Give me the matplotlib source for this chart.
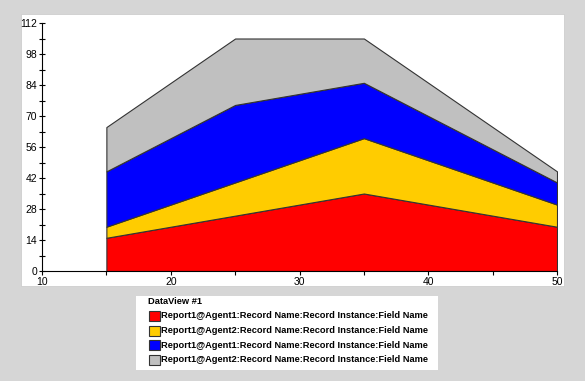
import matplotlib.pyplot as plt
import matplotlib.patches as mpatches
from matplotlib.ticker import MultipleLocator

plt.rcParams['font.family'] = ['Liberation Sans', 'DejaVu Sans']

x = [15, 25, 35, 50]
agent1_a = [15, 25, 35, 20]
agent2_a = [5, 15, 25, 10]
agent1_b = [25, 35, 25, 10]
agent2_b = [20, 30, 20, 5]
series_labels = [
    'Report1@Agent1:Record Name:Record Instance:Field Name',
    'Report1@Agent2:Record Name:Record Instance:Field Name',
    'Report1@Agent1:Record Name:Record Instance:Field Name',
    'Report1@Agent2:Record Name:Record Instance:Field Name',
]
colors = ['#ff0000', '#ffcc00', '#0000ff', '#c0c0c0']

fig = plt.figure(figsize=(5.85, 3.81), dpi=100)
fig.patch.set_facecolor('#d6d6d6')

# white panel behind the plot
fig.patches.append(mpatches.Rectangle((21 / 585, 1 - 286 / 381), 543 / 585, 272 / 381,
                                      transform=fig.transFigure, facecolor='white',
                                      edgecolor='#c8c8c8', linewidth=0.5, zorder=-2))
# white box behind the legend
fig.patches.append(mpatches.Rectangle((136 / 585, 1 - 370 / 381), 302 / 585, 74 / 381,
                                      transform=fig.transFigure, facecolor='white',
                                      edgecolor='none', zorder=-2))

ax = fig.add_axes([42 / 585, 1 - 271 / 381, 515 / 585, 248 / 381])
ax.set_facecolor('none')
ax.set_zorder(1)

ax.stackplot(x, agent1_a, agent2_a, agent1_b, agent2_b, colors=colors,
             edgecolor='#333333', linewidth=0.8)

ax.set_xlim(10, 50)
ax.set_ylim(0, 112)
ax.xaxis.set_major_locator(MultipleLocator(10))
ax.xaxis.set_minor_locator(MultipleLocator(5))
ax.yaxis.set_major_locator(MultipleLocator(14))
ax.yaxis.set_minor_locator(MultipleLocator(7))
ax.tick_params(axis='y', which='both', direction='inout', length=5, width=0.8,
               labelsize=7.5, pad=1)
ax.tick_params(axis='x', which='both', direction='out', length=3, width=0.8,
               labelsize=7.5, pad=1)
for s in ['top', 'right']:
    ax.spines[s].set_visible(False)
for s in ['left', 'bottom']:
    ax.spines[s].set_linewidth(0.8)

fig.text(148 / 585, 1 - 302 / 381, 'DataView #1', fontsize=6.7, fontweight='bold',
         va='center', ha='left')
for i, (lab, c) in enumerate(zip(series_labels, colors)):
    yc = 316 + i * 14.5
    fig.patches.append(mpatches.Rectangle((149 / 585, 1 - (yc + 5) / 381), 11 / 585, 10 / 381,
                                          transform=fig.transFigure, facecolor=c,
                                          edgecolor='#333333', linewidth=0.8))
    fig.text(161 / 585, 1 - yc / 381, lab, fontsize=6.7, fontweight='bold',
             va='center', ha='left')

fig.savefig('out.png', dpi=100, facecolor=fig.get_facecolor())
